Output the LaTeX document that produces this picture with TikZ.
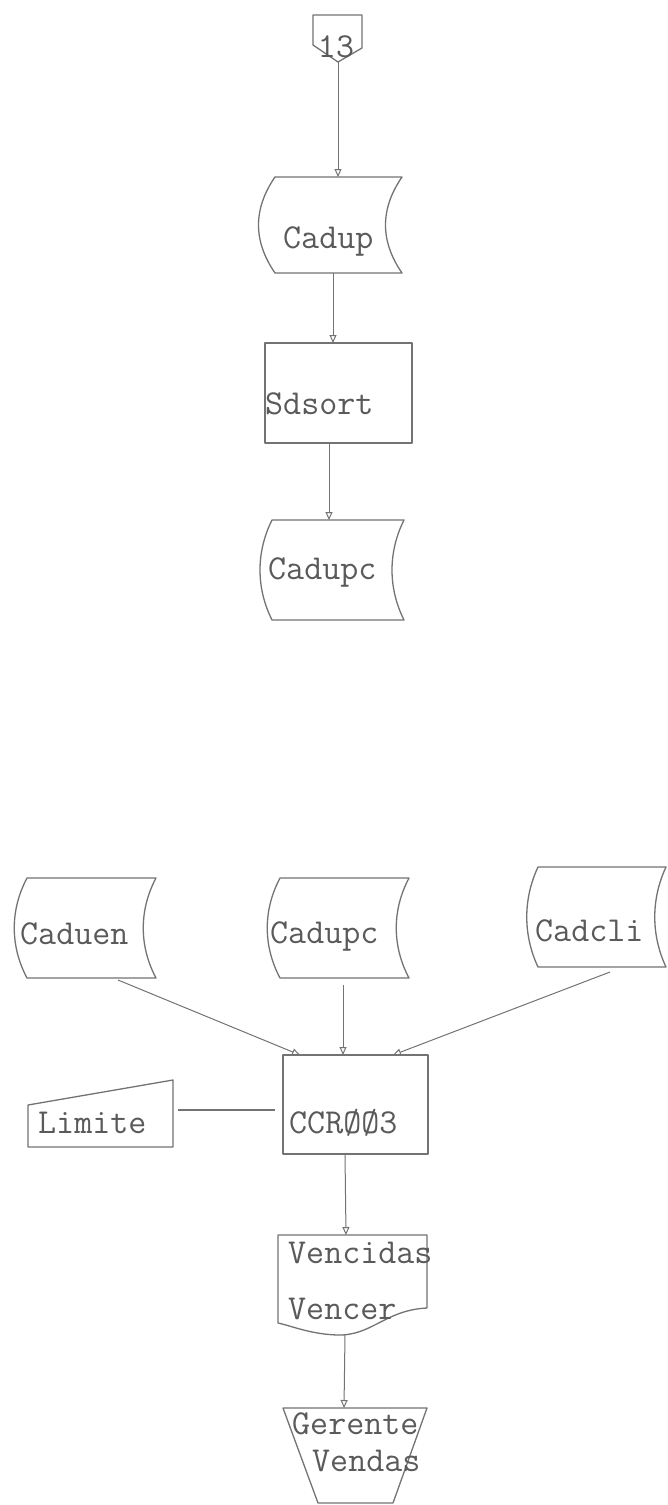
\documentclass[tikz,border=0pt]{standalone}
\usepackage{fontspec}
\usetikzlibrary{arrows.meta}
\definecolor{ink}{RGB}{90,90,90}
\definecolor{pen}{RGB}{115,115,115}
\newcommand\stdata[5]{%
  \draw[shp] (#1,#3) -- (#2,#3) .. controls +(-#5,32) and +(-#5,-32) .. (#2,#4)
     -- (#1,#4) .. controls +(-#5,-32) and +(-#5,32) .. (#1,#3) -- cycle;}
\begin{document}
\begin{tikzpicture}[x=1pt,y=-1pt,
  shp/.style={draw=pen,line width=1.3pt,line join=round},
  con/.style={draw=pen,line width=1pt},
  arr/.style={con,-{Triangle[open,length=8pt,width=7pt]}},
  lbl/.style={inner sep=0pt,anchor=base west,text=ink,font=\fontsize{35}{35}\selectfont\ttfamily}]
\useasboundingbox[fill=white] (0,0) rectangle (667,1505);

% off-page connector 13
\draw[shp] (313,15) -- (362,15) -- (362,48) -- (338,62) -- (313,45) -- cycle;
\node[lbl,anchor=base] (c13) at (336,57) {13};
\coordinate (c13-s) at (338,62);

% Cadup
\stdata{275}{402}{177}{273}{22}
\node[lbl] (cadup) at (283,248) {Cadup};
\coordinate (cadup-n) at (338,177);
\coordinate (cadup-s) at (333,273);

% Sdsort
\draw[shp] (265,343) rectangle (412,443);
\node[lbl] (sdsort) at (265,414) {Sdsort};
\coordinate (sdsort-n) at (333,343);
\coordinate (sdsort-s) at (329,443);

% Cadupc (top)
\stdata{272}{404}{520}{620}{16}
\node[lbl] (cadupc) at (268,579) {Cadupc};
\coordinate (cadupc-n) at (329,520);

% Caduen
\stdata{27}{156}{878}{978}{17}
\node[lbl] (caduen) at (20,944) {Caduen};
\coordinate (caduen-s) at (118,980);

% Cadupc (bottom)
\stdata{280}{409}{878}{978}{17}
\node[lbl] (cadupcb) at (270,943) {Cadupc};
\coordinate (cadupcb-s) at (343,985);

% Cadcli
\stdata{538}{666}{867}{967}{15}
\node[lbl] (cadcli) at (535,941) {Cadcli};
\coordinate (cadcli-s) at (610,972);

% CCR003
\draw[shp] (283,1055) rectangle (428,1154);
\node[lbl] (ccr) at (289,1133) {CCRØØ3};
\coordinate (ccr-a) at (300,1055);
\coordinate (ccr-b) at (343,1055);
\coordinate (ccr-c) at (393,1055);
\coordinate (ccr-w) at (275,1110);
\coordinate (ccr-s) at (345,1154);

% Limite
\draw[shp] (28,1105) -- (173,1080) -- (173,1147) -- (28,1147) -- cycle;
\node[lbl] (limite) at (38,1133) {Limite};
\coordinate (limite-e) at (178,1110);

% Vencidas / Vencer
\draw[shp] (278,1235) -- (427,1235) -- (427,1308)
   .. controls (385,1310) and (372,1336) .. (337,1335)
   .. controls (310,1334) and (292,1326) .. (278,1323) -- cycle;
\node[lbl] (venc1) at (288,1263) {Vencidas};
\node[lbl] (venc2) at (288,1319) {Vencer};
\coordinate (venc-n) at (346,1235);
\coordinate (venc-s) at (345,1334);

% Gerente Vendas
\draw[shp] (283,1408) -- (427,1408) -- (393,1503) -- (318,1503) -- cycle;
\node[lbl] (ger1) at (292,1434) {Gerente};
\node[lbl] (ger2) at (312,1471) {Vendas};
\coordinate (ger-n) at (344,1408);

% connectors
\draw[arr] (c13-s) -- (cadup-n);
\draw[arr] (cadup-s) -- (sdsort-n);
\draw[arr] (sdsort-s) -- (cadupc-n);
\draw[arr] (caduen-s) -- (ccr-a);
\draw[arr] (cadupcb-s) -- (ccr-b);
\draw[arr] (cadcli-s) -- (ccr-c);
\draw[con,line width=1.3pt] (limite-e) -- (ccr-w);
\draw[arr] (ccr-s) -- (venc-n);
\draw[arr] (venc-s) -- (ger-n);
\end{tikzpicture}
\end{document}
